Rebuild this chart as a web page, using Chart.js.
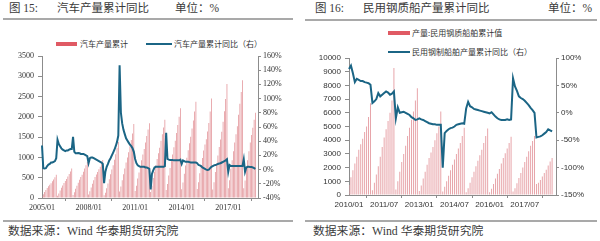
<!DOCTYPE html>
<html><head><meta charset="utf-8">
<script src="https://cdn.jsdelivr.net/npm/chart.js@4.4.1/dist/chart.umd.min.js"></script>
<style>
html,body{margin:0;padding:0;background:#fff;}
#wrap{position:relative;width:600px;height:241px;overflow:hidden;color:#3a3a3a;}
.t{position:absolute;white-space:nowrap;line-height:1;font-family:"Liberation Serif","Noto Sans CJK SC",serif;}
.h{font-size:11.5px;top:3px;}
.f{font-size:11.8px;top:226px;}
.lg{position:absolute;white-space:nowrap;line-height:1;font-family:"Noto Sans CJK SC",sans-serif;font-size:8px;color:#333;}
.rule{position:absolute;height:2px;background:#a9a9a9;}
.sw{position:absolute;}
canvas{position:absolute;}
</style></head>
<body>
<div id="wrap">
  <div class="t h" style="left:9px">图 15:</div>
  <div class="t h" style="left:57px">汽车产量累计同比</div>
  <div class="t h" style="left:175px">单位：%</div>
  <div class="rule" style="left:3px;width:290px;top:18px"></div>

  <div class="t h" style="left:315px">图 16:</div>
  <div class="t h" style="left:363px">民用钢质船产量累计同比</div>
  <div class="t h" style="left:548px">单位：%</div>
  <div class="rule" style="left:305px;width:292px;top:19px"></div>

  <div class="sw" style="left:56px;top:42px;width:21px;height:4px;background:#e05a64"></div>
  <div class="lg" style="left:80px;top:40px">汽车产量累计</div>
  <div class="sw" style="left:146px;top:43px;width:26px;height:2px;background:#1b6585"></div>
  <div class="lg" style="left:174px;top:40px">汽车产量累计同比（右）</div>

  <div class="sw" style="left:388px;top:31px;width:22px;height:4px;background:#e05a64"></div>
  <div class="lg" style="left:412px;top:29px">产量:民用钢质船舶累计值</div>
  <div class="sw" style="left:388px;top:51px;width:22px;height:2px;background:#1b6585"></div>
  <div class="lg" style="left:412px;top:48px">民用钢制船舶产量累计同比（右）</div>

  <div class="rule" style="left:3px;width:290px;top:220px"></div>
  <div class="t f" style="left:8px">数据来源：Wind 华泰期货研究院</div>
  <div class="rule" style="left:305px;width:292px;top:220px"></div>
  <div class="t f" style="left:313px">数据来源：Wind 华泰期货研究院</div>

  <canvas id="c1" width="300" height="215" style="left:0;top:0"></canvas>
  <canvas id="c2" width="300" height="212" style="left:300px;top:0"></canvas>
</div>
<script>
// ---------- Chart 15: car output ----------
const carStartYear = 2005, carEndYear = 2018;
const carOutputCum = [ // 万辆, cumulative by month
  [48, 90, 150, 200, 245, 290, 325, 365, 410, 455, 510, 570],
  [55, 110, 185, 250, 310, 370, 420, 470, 530, 590, 655, 728],
  [75, 140, 225, 300, 375, 450, 515, 575, 650, 725, 805, 888],
  [85, 165, 260, 350, 435, 515, 580, 640, 710, 770, 840, 934],
  [65, 130, 240, 355, 465, 585, 700, 810, 945, 1080, 1230, 1379],
  [163, 285, 440, 588, 730, 873, 1000, 1125, 1278, 1428, 1590, 1826],
  [175, 302, 480, 630, 780, 930, 1070, 1205, 1370, 1530, 1690, 1842],
  [145, 305, 490, 650, 810, 960, 1100, 1240, 1410, 1570, 1740, 1928],
  [200, 345, 555, 740, 920, 1075, 1250, 1410, 1600, 1800, 2000, 2212],
  [215, 380, 600, 800, 990, 1180, 1350, 1510, 1710, 1910, 2130, 2373],
  [220, 390, 610, 800, 985, 1170, 1320, 1450, 1640, 1850, 2130, 2450],
  [210, 390, 640, 850, 1050, 1260, 1440, 1630, 1880, 2140, 2440, 2812],
  [240, 440, 720, 930, 1150, 1370, 1570, 1770, 2050, 2320, 2610, 2902],
  [240, 430, 700, 930, 1150, 1370, 1550, 1730, 1930, 2100]
].flat();
const carOutputYoY = [ // %, cumulative YoY
  [34, 2, 1.5, 2, 5, 7, 8, 10, 10, 11, 12, 16],
  [42, 36, 33, 30, 28, 27, 26, 27, 27, 28, 29, 29],
  [46, 25, 23, 23, 23.5, 23, 22, 22, 22, 21, 20, 19],
  [9, 16, 17, 17, 16, 15, 14, 13, 12, 11, 10, 8],
  [-19, -3, 4, 8, 13, 16, 20, 24, 28, 33, 39, 48],
  [147, 80, 65, 56, 50, 44, 41, 38, 35, 33, 30, 25],
  [15, 9, 6, 5, 4, 4, 4, 4, 3, 3, 2, 1],
  [-28, -6, -1, 3, 4, 4, 4, 4, 4, 4, 4, 5],
  [52, 15, 14, 13.5, 13.5, 13.5, 13, 13, 13, 13, 13, 14],
  [8, 13, 12, 11, 11, 11, 10.5, 10, 10, 10, 10, 10],
  [9, 6.5, 6, 5, 3, 2, 1, 0, -0.5, 0, 2, 4],
  [5, 6, 6.5, 7, 8, 8.5, 9, 10, 11, 12, 13, 14.5],
  [-3, 6.5, 5, 5, 5, 5, 5, 5, 5, 5, 5, 5],
  [14.5, -3, 3, 4, 4, 3.5, 3.5, 3, 2, 1]
].flat();
const carLeftTicks = {min: 0, max: 3500, step: 500};
const carRightTicks = {min: -40, max: 160, step: 20};
const carLabelEvery = 36;

// ---------- Chart 16: civil steel ships ----------
const shipStartYear = 2010, shipEndYear = 2018, shipEndMonth = 11;
const shipOutputCum = [ // 万载重吨, cumulative by month
  [730, 1300, 1800, 2300, 2800, 3300, 3700, 4100, 4600, 5000, 5700, 6700],
  [350, 900, 1500, 2100, 2800, 3500, 4200, 4800, 5400, 6000, 6900, 9270],
  [400, 1000, 1700, 2400, 3000, 3600, 4300, 4900, 5500, 6100, 6900, 7800],
  [300, 700, 1200, 1700, 2200, 2700, 3100, 3500, 4000, 4500, 5000, 6100],
  [250, 600, 1000, 1400, 1800, 2200, 2600, 3000, 3400, 3800, 4300, 4900],
  [200, 500, 900, 1300, 1700, 2100, 2500, 2900, 3300, 3800, 4300, 4850],
  [200, 450, 800, 1200, 1550, 1900, 2300, 2700, 3050, 3400, 3800, 4250],
  [250, 500, 850, 1250, 1600, 2000, 2400, 2800, 3200, 3600, 3950, 4300],
  [800, 900, 1100, 1350, 1600, 1850, 2150, 2450, 2700]
].flat();
const shipOutputYoY = [ // %, cumulative YoY
  [80, 86, 72, 56, 62, 60, 58, 58, 56, 55, 54, 51],
  [18, 21, 25, 36, 30, 33, 36, 39, 37, 33, 35, 39],
  [-10, 10, 0, 1, 2, 0, -2, -4, -8, -10, -13, -12],
  [-10, -12, -13, -15, -17, -19, -20, -21, -21, -22, -22, -22],
  [-100, -37, -33, -30, -28, -27, -25, -22, -21, -20, -19, -20],
  [8, 20, 12, 10, 7, 6, 5, 4, 3, 2, 1, 0],
  [-1, 1, -3, -7, -10, -12, -13, -13, -13, -12, -13, -12],
  [63, 48, 40, 30, 27, 25, 22, 18, 14, 9, 5, 0],
  [-45, -44, -43, -41, -38, -35, -30, -32, -34]
].flat();
const shipLeftTicks = {min: 0, max: 10000, step: 1000};
const shipRightTicks = {min: -150, max: 100, step: 50};
const shipLabelEvery = 18;

function monthLabels(y0, y1, lastMonth) {
  const out = [];
  for (let y = y0; y <= y1; y++) {
    const mMax = (y === y1) ? lastMonth : 12;
    for (let m = 1; m <= mMax; m++) out.push(y + '/' + String(m).padStart(2, '0'));
  }
  return out;
}
const carMonths = monthLabels(carStartYear, carEndYear, 12);
const shipMonths = monthLabels(shipStartYear, shipEndYear, shipEndMonth);

const barColor = '#e08a90';
const lineColor = '#1b6585';
const axisColor = '#8c8c8c';

function makeChart(id, cfg) {
  const tickFont = {family: cfg.fontFamily, size: 8};
  return new Chart(document.getElementById(id), {
    type: 'bar',
    data: {
      labels: cfg.labels,
      datasets: [
        {type: 'line', data: cfg.line, yAxisID: 'y1', borderColor: lineColor, borderWidth: 2,
         pointRadius: 0, tension: 0, fill: false, order: 0},
        {type: 'bar', data: cfg.bars, yAxisID: 'y', backgroundColor: cfg.barColor,
         barPercentage: cfg.barPct, categoryPercentage: 1, order: 1}
      ]
    },
    options: {
      responsive: false, animation: false, devicePixelRatio: 1,
      layout: {padding: {top: cfg.top, left: 0, right: 0, bottom: 0}},
      plugins: {legend: {display: false}, tooltip: {enabled: false}},
      scales: {
        x: {
          offset: false,
          grid: {display: true, drawOnChartArea: false, drawTicks: true, tickLength: 3, color: axisColor},
          border: {display: true, color: axisColor},
          afterBuildTicks: s => { s.ticks = s.ticks.filter(t => t.value % cfg.every === 0); },
          afterFit: s => { s.height = cfg.xh; },
          ticks: {autoSkip: false, maxRotation: 0, padding: 2, color: '#333', font: tickFont,
                  callback: function (v) { return this.getLabelForValue(v); }}
        },
        y: {
          position: 'left', min: cfg.lt.min, max: cfg.lt.max,
          grid: {display: true, drawOnChartArea: false, tickLength: 4, color: axisColor},
          border: {display: true, color: axisColor},
          afterFit: s => { s.width = cfg.lw; },
          ticks: {stepSize: cfg.lt.step, padding: 4, color: '#333', font: tickFont,
                  callback: v => String(v)}
        },
        y1: {
          position: 'right', min: cfg.rt.min, max: cfg.rt.max,
          grid: {display: true, drawOnChartArea: false, tickLength: 3, color: axisColor},
          border: {display: true, color: axisColor},
          afterFit: s => { s.width = cfg.rw; },
          ticks: {stepSize: cfg.rt.step, padding: 2, color: '#333', font: tickFont,
                  callback: v => v + '%'}
        }
      }
    }
  });
}

makeChart('c1', {
  labels: carMonths, bars: carOutputCum, line: carOutputYoY, every: carLabelEvery,
  lt: carLeftTicks, rt: carRightTicks, top: 56, lw: 42, rw: 42, xh: 17,
  fontFamily: '"Liberation Serif", serif', barColor: barColor, barPct: 0.55
});
makeChart('c2', {
  labels: shipMonths, bars: shipOutputCum, line: shipOutputYoY, every: shipLabelEvery,
  lt: shipLeftTicks, rt: shipRightTicks, top: 58, lw: 49, rw: 44, xh: 17,
  fontFamily: '"Liberation Sans", sans-serif', barColor: '#e7a3a8', barPct: 0.5
});
</script>
</body></html>
